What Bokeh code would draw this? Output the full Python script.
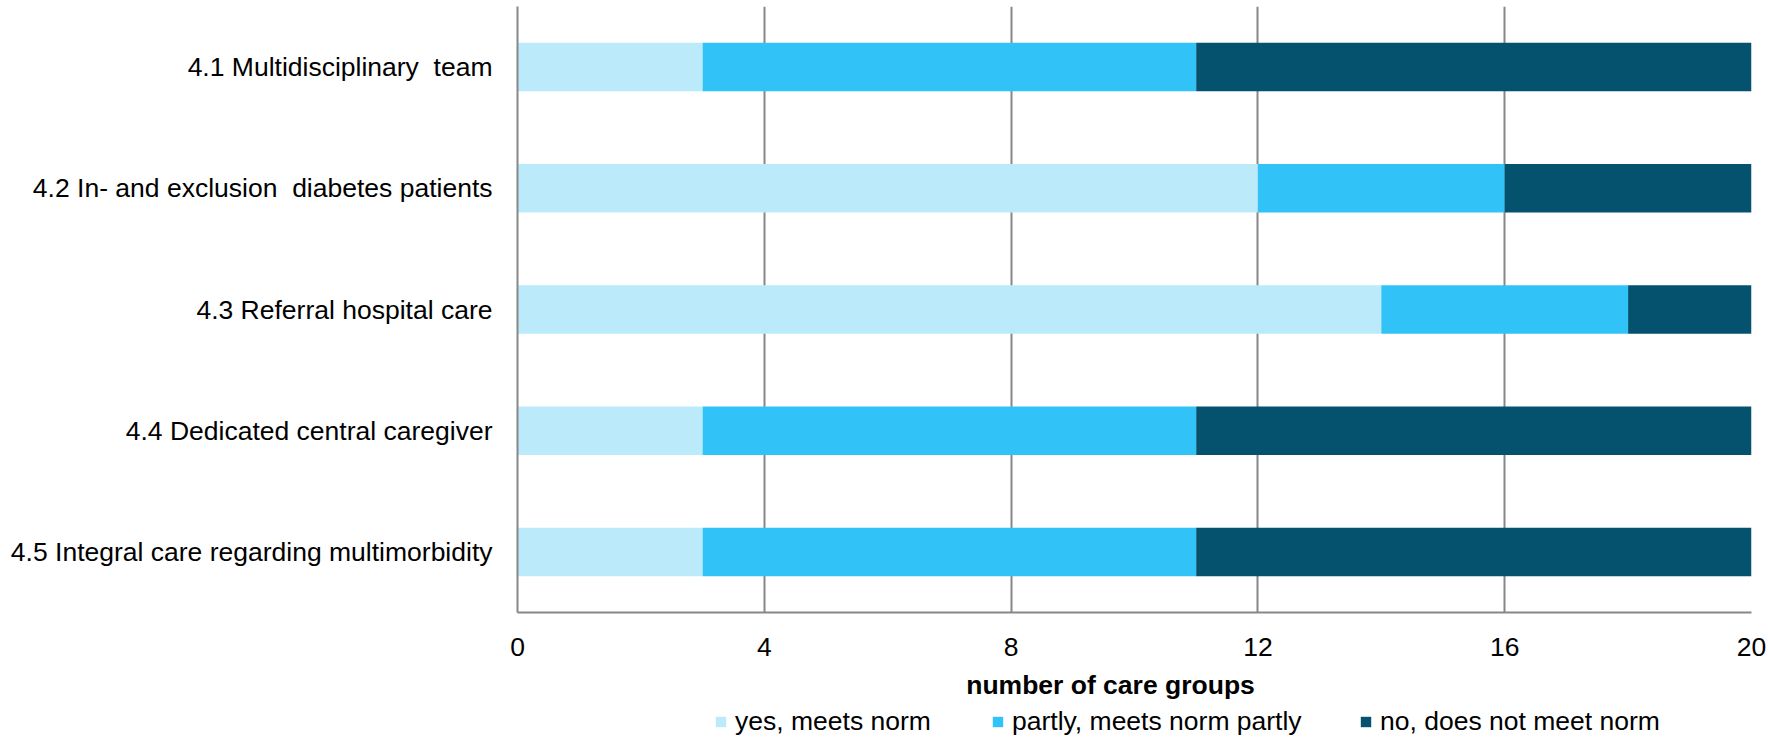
from bokeh.plotting import figure
from bokeh.layouts import column
from bokeh.models import ColumnDataSource, FactorRange, Range1d, FixedTicker, Legend, LegendItem, Label
from bokeh.embed import file_html
from bokeh.resources import INLINE

NB = "\u00a0"
categories = [
    "4.1 Multidisciplinary" + NB + " team",
    "4.2 In- and exclusion" + NB + " diabetes patients",
    "4.3 Referral hospital care",
    "4.4 Dedicated central caregiver",
    "4.5 Integral care regarding multimorbidity",
]
yes_vals = [3, 12, 14, 3, 3]
partly_vals = [8, 4, 4, 8, 8]
no_vals = [9, 4, 2, 9, 9]
series_keys = ["yes", "partly", "no"]
series_names = ["yes, meets norm", "partly, meets norm partly", "no, does not meet norm"]
series_colors = ["#BBEBFA", "#31C3F7", "#05526F"]
x_ticks = [0, 4, 8, 12, 16, 20]
x_title = "number of care groups"

FONT = "Liberation Sans"
FS = "26.5px"
GRID = "#878787"

source = ColumnDataSource(dict(cat=categories, yes=yes_vals, partly=partly_vals, no=no_vals))

p = figure(
    width=1768, height=668,
    y_range=FactorRange(factors=list(reversed(categories)), range_padding=0),
    x_range=Range1d(0, 20),
    output_backend="svg", toolbar_location=None,
    min_border_left=517, min_border_right=17, min_border_top=6, min_border_bottom=56,
)
p.outline_line_color = None
p.background_fill_color = "white"
p.border_fill_color = "white"

renderers = p.hbar_stack(series_keys, y="cat", height=0.4, color=series_colors,
                         line_color=None, source=source)

# axes
p.xaxis.ticker = FixedTicker(ticks=x_ticks)
for ax in (p.xaxis, p.yaxis):
    ax.axis_line_color = GRID
    ax.axis_line_width = 2
    ax.major_tick_line_color = None
    ax.minor_tick_line_color = None
    ax.major_tick_out = 0
    ax.major_tick_in = 0
    ax.major_label_text_font = FONT
    ax.major_label_text_font_size = FS
    ax.major_label_text_color = "#000000"
p.xaxis.major_label_standoff = 25
p.yaxis.major_label_standoff = 25

p.xgrid.ticker = FixedTicker(ticks=x_ticks[1:])
p.xgrid.grid_line_color = GRID
p.xgrid.grid_line_width = 2
p.ygrid.grid_line_color = None

# strip below the chart: x-axis title and legend (its zero-height bars draw nothing)
p2 = figure(
    width=1768, height=74,
    y_range=FactorRange(factors=list(reversed(categories))), x_range=Range1d(0, 20),
    x_axis_type=None, y_axis_type=None, output_backend="svg", toolbar_location=None,
    min_border_left=517, min_border_right=17, min_border_top=0, min_border_bottom=0,
)
p2.outline_line_color = None
p2.xgrid.visible = False
p2.ygrid.visible = False
p2.background_fill_color = "white"
p2.border_fill_color = "white"

legend_renderers = p2.hbar_stack(series_keys, y="cat", height=0, color=series_colors,
                                 line_color=None, source=source)

p2.add_layout(Label(x=593, y=58, x_units="screen", y_units="screen", text=x_title,
                    text_align="center", text_baseline="middle",
                    text_font=FONT, text_font_size=FS, text_font_style="bold",
                    text_color="#000000"))

offsets = [197, 474, 842]
for name, r, off in zip(series_names, legend_renderers, offsets):
    lg = Legend(items=[LegendItem(label=name, renderers=[r])],
                location=(off, 5), orientation="horizontal",
                padding=0, margin=0, border_line_color=None,
                background_fill_alpha=0, glyph_width=13, glyph_height=13,
                label_standoff=8, label_text_font=FONT, label_text_font_size=FS,
                label_text_color="#000000")
    p2.add_layout(lg)

layout = column(p, p2, spacing=0)
open("out.html", "w").write(file_html(layout, INLINE))
